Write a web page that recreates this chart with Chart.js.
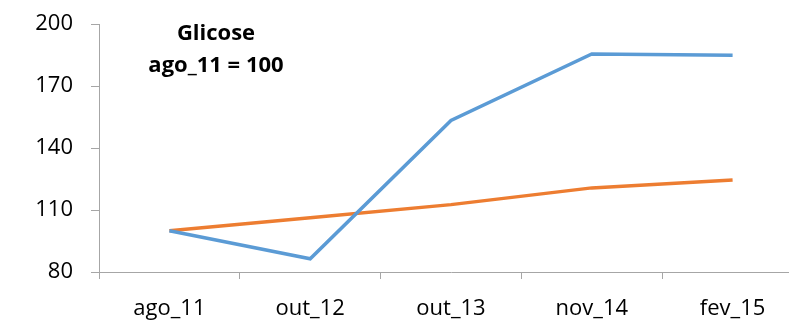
<!DOCTYPE html>
<html>
<head>
<meta charset="utf-8">
<script src="https://cdn.jsdelivr.net/npm/chart.js@4/dist/chart.umd.min.js"></script>
<style>
html,body{margin:0;padding:0;background:#fff;overflow:hidden;}
#wrap{width:803px;height:323px;}
</style>
</head>
<body>
<div id="wrap"><canvas id="c" width="803" height="323"></canvas></div>
<script>
const categories = ["ago_11", "out_12", "out_13", "nov_14", "fev_15"];
const seriesA = [100, 86.4, 153.3, 185.5, 184.9];
const seriesB = [100, 106.3, 112.6, 120.7, 124.5];
const yTicks = [80, 110, 140, 170, 200];
const titleLines = ["Glicose", "ago_11 = 100"];

const titlePlugin = {
  id: 'innerTitle',
  afterDraw(chart) {
    const ctx = chart.ctx;
    ctx.save();
    ctx.font = 'bold 22px "Open Sans"';
    ctx.fillStyle = '#000';
    ctx.textAlign = 'center';
    ctx.textBaseline = 'alphabetic';
    ctx.fillText(titleLines[0], 216, 40);
    ctx.fillText(titleLines[1], 216, 72);
    ctx.restore();
  }
};

new Chart(document.getElementById('c'), {
  type: 'line',
  data: {
    labels: categories,
    datasets: [
      { data: seriesA, borderColor: '#5b9bd5', borderWidth: 3.5, pointRadius: 0, tension: 0, fill: false },
      { data: seriesB, borderColor: '#ed7d31', borderWidth: 3.5, pointRadius: 0, tension: 0, fill: false }
    ]
  },
  options: {
    responsive: false,
    animation: false,
    devicePixelRatio: 1,
    layout: { padding: { top: 24, right: 0, bottom: 0, left: 0 } },
    plugins: { legend: { display: false }, tooltip: { enabled: false } },
    scales: {
      x: {
        offset: true,
        grid: { offset: true, drawOnChartArea: false, tickLength: 7, color: '#a6a6a6', lineWidth: 1 },
        border: { color: '#a6a6a6', width: 1 },
        ticks: { color: '#000', font: { family: '"Open Sans"', size: 22 }, padding: 17, maxRotation: 0, autoSkip: false },
        afterFit(s) { s.height = 51; s.paddingLeft = 0; s.paddingRight = 0; }
      },
      y: {
        min: 80, max: 200,
        afterBuildTicks(s) { s.ticks = yTicks.map(v => ({ value: v })); },
        grid: { drawOnChartArea: false, tickLength: 8, color: '#a6a6a6', lineWidth: 1 },
        border: { color: '#a6a6a6', width: 1 },
        ticks: { color: '#000', font: { family: '"Open Sans"', size: 22 }, padding: 18 },
        afterFit(s) { s.width = 99; s.paddingTop = 0; s.paddingBottom = 0; }
      }
    }
  },
  plugins: [titlePlugin]
});
</script>
</body>
</html>
